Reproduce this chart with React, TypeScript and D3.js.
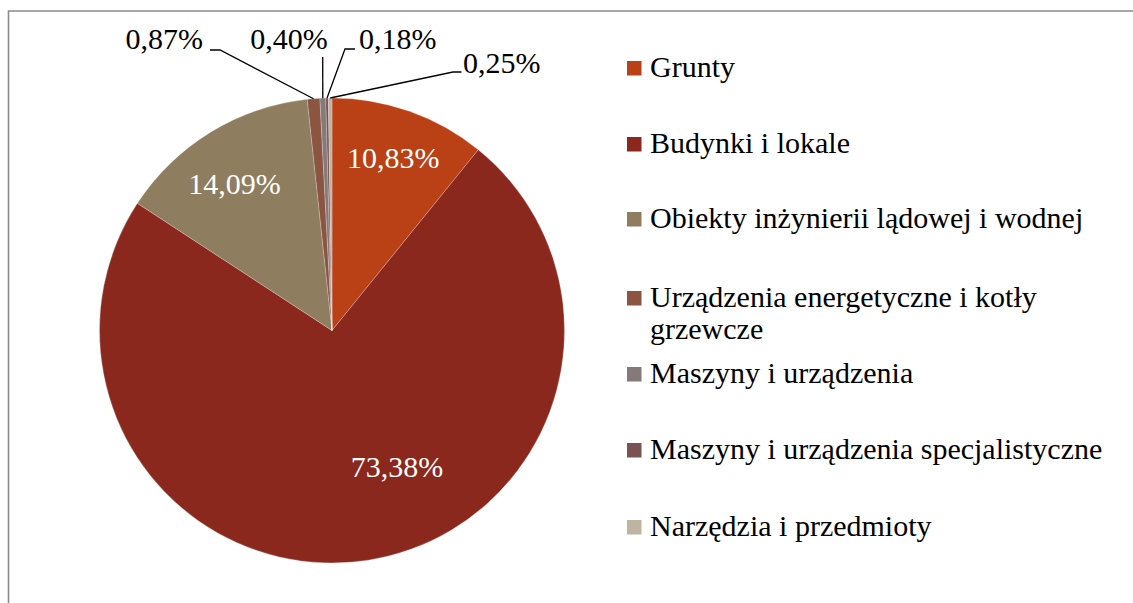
import React from "react";
import * as d3 from "d3";

const categories = [
  "Grunty",
  "Budynki i lokale",
  "Obiekty inżynierii lądowej i wodnej",
  "Urządzenia energetyczne i kotły grzewcze",
  "Maszyny i urządzenia",
  "Maszyny i urządzenia specjalistyczne",
  "Narzędzia i przedmioty",
];
const values = [10.83, 73.38, 14.09, 0.87, 0.4, 0.18, 0.25];
const valueLabels = ["10,83%", "73,38%", "14,09%", "0,87%", "0,40%", "0,18%", "0,25%"];
const colors = ["#BA4016", "#8A281E", "#8E7D5F", "#8B5542", "#857979", "#7A5251", "#BFB3A2"];
const legendLines = [
  ["Grunty"],
  ["Budynki i lokale"],
  ["Obiekty inżynierii lądowej i wodnej"],
  ["Urządzenia energetyczne i kotły", "grzewcze"],
  ["Maszyny i urządzenia"],
  ["Maszyny i urządzenia specjalistyczne"],
  ["Narzędzia i przedmioty"],
];

const W = 1133;
const H = 603;
const cx = 332;
const cy = 330.5;
const R = 232.5;
const FONT = "'Liberation Serif', 'Times New Roman', serif";

// inside label placement: [radius fraction, angle offset (deg)]
const insideLayout: Record<number, [number, number]> = {
  0: [0.79, 0],
  1: [0.65, -16.5],
  2: [0.76, -2],
};
// outside labels: text anchor point, anchor, elbow point
const outsideLayout: Record<number, { tx: number; ty: number; anchor: string; pts: [number, number][] }> = {
  3: { tx: 203, ty: 49, anchor: "end", pts: [[210, 50], [220, 50]] },
  4: { tx: 289, ty: 49, anchor: "middle", pts: [[322.7, 57]] },
  5: { tx: 359, ty: 49, anchor: "start", pts: [[355, 49], [345, 49]] },
  6: { tx: 463, ty: 73, anchor: "start", pts: [[461.5, 72], [453, 72]] },
};
const legendBaselines = [77, 153, 228, 307, 383, 459, 536];

export default function App() {
  const pie = d3.pie<number>().sort(null).value((d) => d)(values);
  const arc = d3.arc<d3.PieArcDatum<number>>().innerRadius(0).outerRadius(R);

  return (
    <svg
      width={W}
      height={H}
      style={{ position: "absolute", left: 0, top: 0, background: "#fff" }}
    >
      <rect x={0} y={0} width={W} height={H} fill="#fff" />
      <path d={`M8.5,${H} L8.5,11 L${W},11`} fill="none" stroke="#8a8a8a" strokeWidth={1.6} />
      <g transform={`translate(${cx},${cy})`}>
        {pie.map((p, i) => (
          <path key={i} d={arc(p) || ""} fill={colors[i]} stroke="#fff" strokeWidth={0.4} strokeOpacity={0.6} />
        ))}
      </g>
      {pie.map((p, i) => {
        if (insideLayout[i]) {
          const [rf, off] = insideLayout[i];
          const a = (p.startAngle + p.endAngle) / 2 + (off * Math.PI) / 180;
          const x = cx + Math.sin(a) * R * rf;
          const y = cy - Math.cos(a) * R * rf;
          return (
            <text key={i} x={x} y={y} dy="0.35em" textAnchor="middle" fill="#fff" fontFamily={FONT} fontSize={30}>
              {valueLabels[i]}
            </text>
          );
        }
        const L = outsideLayout[i];
        const a = (p.startAngle + p.endAngle) / 2;
        const ax = cx + Math.sin(a) * R;
        const ay = cy - Math.cos(a) * R;
        const pts = [...L.pts, [ax, ay]];
        return (
          <g key={i}>
            <polyline
              points={pts.map((q) => q.join(",")).join(" ")}
              fill="none"
              stroke="#000"
              strokeWidth={1.3}
            />
            <text x={L.tx} y={L.ty} textAnchor={L.anchor} fill="#000" fontFamily={FONT} fontSize={30}>
              {valueLabels[i]}
            </text>
          </g>
        );
      })}
      {categories.map((c, i) => (
        <g key={c}>
          <rect x={627} y={legendBaselines[i] - 16} width={14.5} height={14.5} fill={colors[i]} />
          {legendLines[i].map((ln, j) => (
            <text key={j} x={650} y={legendBaselines[i] + j * 32} fill="#000" fontFamily={FONT} fontSize={30}>
              {ln}
            </text>
          ))}
        </g>
      ))}
    </svg>
  );
}
